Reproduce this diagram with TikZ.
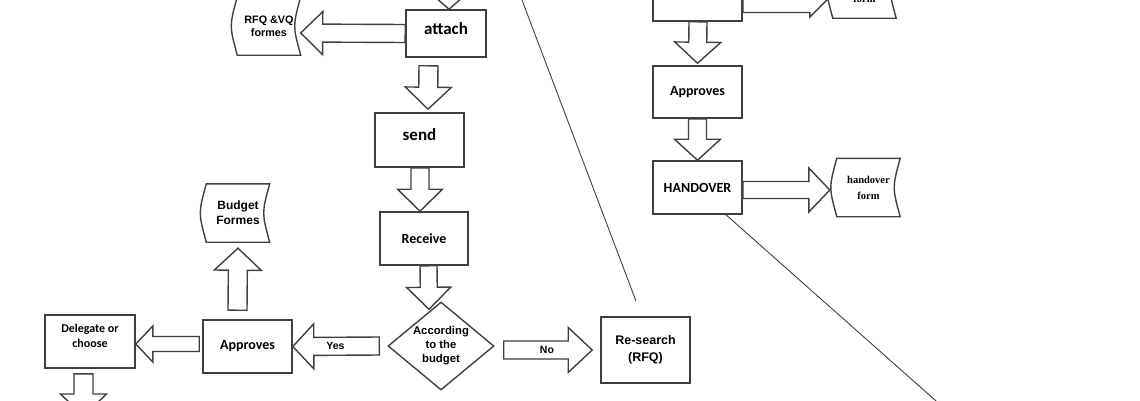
\documentclass[tikz,border=0pt]{standalone}
\usepackage{fontspec}
\setmainfont{Carlito}
\newfontfamily\arialfont{Liberation Sans}
\newfontfamily\timesfont{Liberation Serif}
\usetikzlibrary{shapes.geometric, calc, positioning}
\definecolor{colLine}{RGB}{64,64,64}
\tikzset{
  box/.style={
    rectangle, draw=colLine, line width=1.6pt,
    align=center, inner sep=2pt,
    font=\bfseries\fontsize{14}{16}\selectfont
  },
  bigBox/.style={box, text depth=10pt, font=\bfseries\fontsize{17}{19}\selectfont},
  smallBox/.style={box, text depth=12pt, font=\bfseries\fontsize{12}{15}\selectfont},
  sansBox/.style={box, font=\arialfont\bfseries\fontsize{12.5}{17}\selectfont},
  decBox/.style={
    diamond, draw=colLine, line width=1.4pt, aspect=1.2, inner sep=0pt,
    minimum width=106pt, minimum height=88pt, align=center,
    font=\arialfont\bfseries\fontsize{11.3}{14}\selectfont
  },
  docBox/.style={
    rectangle, minimum width=63pt, minimum height=58pt, inner sep=0pt,
    align=center, font=\arialfont\bfseries\fontsize{11}{13}\selectfont
  },
  serifText/.style={font=\timesfont\bfseries\fontsize{10.5}{16}\selectfont, align=center},
  docLine/.style={draw=colLine, line width=1.4pt},
  blockArr/.style={draw=colLine, fill=white, line width=1.4pt, line join=miter},
  lblText/.style={font=\arialfont\bfseries\fontsize{10.5}{12}\selectfont, inner sep=0pt},
  thinLine/.style={draw=colLine, line width=0.9pt},
}
% tail, tip, shaft half width, head half width, head length, label
\newcommand{\blockarrow}[6]{%
  \coordinate (ba-t) at (#1);
  \coordinate (ba-h) at (#2);
  \coordinate (ba-b) at ($(ba-h)!#5pt!(ba-t)$);
  \draw[blockArr] ($(ba-t)!#3pt!90:(ba-h)$) -- ($(ba-b)!#3pt!90:(ba-h)$)
    -- ($(ba-b)!#4pt!90:(ba-h)$) -- (ba-h)
    -- ($(ba-b)!#4pt!-90:(ba-h)$) -- ($(ba-b)!#3pt!-90:(ba-h)$)
    -- ($(ba-t)!#3pt!-90:(ba-h)$) -- cycle;
  \node[lblText] at ($(ba-t)!0.67!(ba-b)$) {#6};
}
% stored-data outline round a docBox node
\newcommand{\docOutline}[1]{%
  \draw[docLine] (#1.north west) .. controls ($(#1.west)+(-8,0)$) .. (#1.south west)
    -- (#1.south east) .. controls ($(#1.east)+(-8,0)$) .. (#1.north east) -- cycle;
}

\begin{document}
\begin{tikzpicture}[x=1pt, y=-1pt]
\useasboundingbox (0,0) rectangle (1140,400);

% ---- Nodes (left column) ---------------------------------------
\node[bigBox, minimum width=80pt, minimum height=47pt] (attach) at (446,33.5) {attach};
\node[bigBox, minimum width=89pt, minimum height=54pt] (send) at (419.5,140) {send};
\node[box, minimum width=88pt, minimum height=53pt] (recv) at (424,238.5) {Receive};
\node[decBox] (budgetDec) at (441,346) {According\\to the\\budget};
\node[sansBox, minimum width=89pt, minimum height=66pt] (research) at (645.5,350) {Re-search\\(RFQ)};
\node[box, minimum width=89pt, minimum height=53pt] (approvesL) at (247.5,346.5) {Approves};
\node[smallBox, minimum width=90pt, minimum height=53pt] (delegate) at (90,341.5) {Delegate or\\choose};
\node[docBox, font=\arialfont\bfseries\fontsize{10.8}{13}\selectfont] (rfqDoc) at (269,26) {RFQ \&VQ\\formes};
\node[docBox, font=\arialfont\bfseries\fontsize{12}{15}\selectfont] (budgetDoc) at (238,213) {Budget\\Formes};

% ---- Nodes (right column) --------------------------------------
\node[box, minimum width=89pt, minimum height=53pt] (topBox) at (697.5,-5.5) {};
\node[box, minimum width=89pt, minimum height=52pt] (approvesR) at (697.5,92) {Approves};
\node[box, minimum width=89pt, minimum height=53pt] (handover) at (697.5,187.5) {HANDOVER};
\node[docBox, font=\timesfont\bfseries\fontsize{10.5}{16}\selectfont] (handDoc) at (868.5,187.5) {handover\\form};
\node[docBox] (formDoc) at (864.5,-11) {};
\node[serifText] (formTxt) at (864.5,-1) {form};

\docOutline{rfqDoc}
\docOutline{budgetDoc}
\docOutline{handDoc}
\docOutline{formDoc}

% ---- Block arrows -----------------------------------------------
\coordinate (inTop) at (449,-45);
\coordinate (outBottom) at (83.5,416);
\blockarrow{inTop}{$(attach.north)+(3,0)$}{9}{23}{20}{}
\blockarrow{attach.west}{$(rfqDoc.east)+(0,7)$}{9}{21.5}{22}{}
\blockarrow{$(attach.south)+(-17.5,8)$}{$(send.north)+(8.5,-3)$}{9.5}{23}{22}{}
\blockarrow{$(send.south)+(0.5,0)$}{$(recv.north)+(-4,0)$}{9}{22.5}{22}{}
\blockarrow{$(recv.south)+(4.5,0)$}{$(budgetDec.north)+(-12,8)$}{8.5}{22}{22}{}
\blockarrow{$(budgetDec.east)+(9,4)$}{$(research.west)+(-8,0)$}{9}{22.5}{24}{No}
\blockarrow{$(budgetDec.west)+(-8,0)$}{approvesL.east}{9}{22.5}{21}{Yes}
\blockarrow{$(approvesL.west)+(-3,-2.5)$}{$(delegate.east)+(0,2.5)$}{7.5}{18}{17}{}
\blockarrow{$(delegate.south)+(-6.5,5)$}{outBottom}{9.5}{23}{22}{}
\blockarrow{$(approvesL.north)+(-10,-9)$}{$(budgetDoc.south)+(0,6)$}{9.5}{23.5}{22}{}
\blockarrow{$(topBox.east)+(0,5.5)$}{$(formDoc.west)+(-6,11)$}{12.5}{17}{17}{}
\blockarrow{$(topBox.south)+(0.5,0)$}{$(approvesR.north)+(0,-2)$}{9}{23}{21}{}
\blockarrow{approvesR.south}{handover.north}{9}{23}{21}{}
\blockarrow{$(handover.east)+(0,2.5)$}{$(handDoc.west)+(-7,2.5)$}{8.5}{22}{21}{}

% ---- Thin lines ---------------------------------------------------
\coordinate (lineTopA) at (514.4,-20);
\coordinate (lineEndA) at (636,301);
\coordinate (lineEndB) at (957.5,420);
\draw[thinLine] (lineTopA) -- (lineEndA);
\draw[thinLine] ($(handover.south)+(28.5,0)$) -- (lineEndB);

\end{tikzpicture}
\end{document}
